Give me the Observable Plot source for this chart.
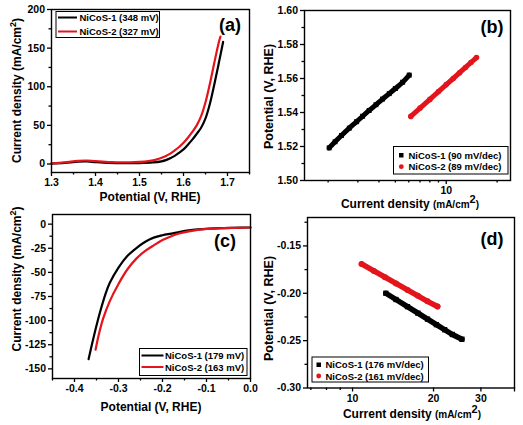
<!DOCTYPE html>
<html><head><meta charset="utf-8">
<script src="https://cdn.jsdelivr.net/npm/d3@7"></script>
<script src="https://cdn.jsdelivr.net/npm/@observablehq/plot@0.6"></script>
<style>
body{margin:0;background:#fff;}
#root{position:relative;width:523px;height:425px;overflow:hidden;background:#fff;}
</style></head><body><div id="root"></div>
<script>
// ---------- DATA ----------
// (a) OER polarization curves
const oerPotential1 = [1.30,1.33,1.36,1.38,1.40,1.43,1.46,1.50,1.53,1.55,1.56,1.57,1.58,1.59,1.60,1.61,1.62,1.63,1.64,1.65,1.66,1.67,1.68,1.69];
const oerCurrent1   = [0.5,1.5,3.0,3.3,2.5,1.5,1.0,1.2,2.0,3.5,5.0,7.5,10.5,14.5,19,25,31.5,39,47,59,78,103,130,158];
const oerPotential2 = [1.30,1.33,1.36,1.38,1.40,1.43,1.46,1.50,1.52,1.54,1.55,1.56,1.57,1.58,1.59,1.60,1.61,1.62,1.63,1.64,1.65,1.66,1.67,1.68,1.684];
const oerCurrent2   = [1.0,2.2,4.0,4.5,3.6,2.6,2.0,2.8,3.8,6.0,8.0,10.5,13.5,17.5,22,27.5,34,41.5,50,62,80,104,131,157,165];
// (b) OER Tafel plots
const oerTafelCurrent1   = [2.03,2.2,2.4,2.67,2.95,3.2,3.5,3.84,4.2,4.6,5.0,5.52,6.04];
const oerTafelPotential1 = [1.5192,1.5228,1.5265,1.5308,1.5346,1.5378,1.5412,1.5446,1.5479,1.5511,1.5541,1.5578,1.5620];
const oerTafelCurrent2   = [6.17,7,8,9,10,11,12,13,14,15.1];
const oerTafelPotential2 = [1.5377,1.5426,1.5477,1.5523,1.5564,1.5600,1.5634,1.5665,1.5694,1.5723];
// (c) HER polarization curves
const herPotential1 = [-0.368,-0.36,-0.35,-0.34,-0.33,-0.32,-0.30,-0.28,-0.26,-0.24,-0.22,-0.20,-0.18,-0.16,-0.14,-0.12,-0.10,-0.07,-0.04,0.0];
const herCurrent1   = [-140,-124,-105,-88,-73,-61,-45,-33,-25,-18.5,-14,-11.5,-9.8,-8,-6.5,-5.5,-4.8,-4.2,-3.8,-3.5];
const herPotential2 = [-0.352,-0.345,-0.335,-0.32,-0.30,-0.28,-0.26,-0.24,-0.22,-0.20,-0.18,-0.16,-0.14,-0.12,-0.10,-0.07,-0.04,0.0];
const herCurrent2   = [-130,-115,-98,-80,-62,-47,-36,-28,-22,-16.5,-12.5,-9.5,-7.5,-6,-5,-4.3,-3.9,-3.5];
// (d) HER Tafel plots
const herTafelCurrent1   = [13.3,14.5,16,17.5,19,20.5,22,23.5,25.5];
const herTafelPotential1 = [-0.200,-0.2066,-0.2141,-0.2210,-0.2273,-0.2331,-0.2385,-0.2435,-0.2485];
const herTafelCurrent2   = [10.8,12,13.2,14.5,16,17.5,19,20.7];
const herTafelPotential2 = [-0.169,-0.1764,-0.1830,-0.1896,-0.1965,-0.2027,-0.2085,-0.2140];

// legends / labels
const legendA = ["NiCoS-1 (348 mV)", "NiCoS-2 (327 mV)"];
const legendB = ["NiCoS-1 (90 mV/dec)", "NiCoS-2 (89 mV/dec)"];
const legendC = ["NiCoS-1 (179 mV)", "NiCoS-2 (163 mV)"];
const legendD = ["NiCoS-1 (176 mV/dec)", "NiCoS-2 (161 mV/dec)"];
const panelLabels = ["(a)", "(b)", "(c)", "(d)"];

// ticks
const ticksAx = [1.3,1.4,1.5,1.6,1.7], minorAx = [1.35,1.45,1.55,1.65,1.75];
const ticksAy = [0,50,100,150,200], minorAy = [25,75,125,175];
const ticksBx = [10], minorBx = [2,3,4,5,6,7,8,9,20];
const ticksBy = [1.50,1.52,1.54,1.56,1.58,1.60], minorBy = [1.51,1.53,1.55,1.57,1.59];
const ticksCx = [-0.4,-0.3,-0.2,-0.1,0.0], minorCx = [-0.45,-0.35,-0.25,-0.15,-0.05];
const ticksCy = [0,-25,-50,-75,-100,-125,-150], minorCy = [-12.5,-37.5,-62.5,-87.5,-112.5,-137.5];
const ticksDx = [10,20,30,40], minorDx = [7,8,9];
const ticksDy = [-0.30,-0.25,-0.20,-0.15], minorDy = [-0.275,-0.225,-0.175,-0.125];

// ---------- DRAWING ----------
const FONT = '"Liberation Sans", Arial, Helvetica, sans-serif';
const RED = "#e3141c";
const root = document.getElementById("root");
const rows = (xs, ys) => xs.map((x, i) => ({x, y: ys[i]}));

function axes(xMaj, xMin, xFmt, yMaj, yMin, yFmt) {
  const common = {label: null, strokeWidth: 1.3, fontSize: 10.5, fontWeight: "bold"};
  return [
    Plot.axisX(xMaj, {...common, anchor: "bottom", tickSize: 4, tickPadding: 2.5, tickFormat: xFmt}),
    Plot.axisX(xMin, {...common, anchor: "bottom", tickSize: 2.5, fill: "none", tickFormat: () => ""}),
    Plot.axisY(yMaj, {...common, anchor: "left", tickSize: 4, tickPadding: 2.5, tickFormat: yFmt}),
    Plot.axisY(yMin, {...common, anchor: "left", tickSize: 2.5, fill: "none", tickFormat: () => ""})
  ];
}
const baseStyle = {fontFamily: FONT, fontSize: "10.5px", fontWeight: "bold", color: "black", background: "transparent", overflow: "visible"};

function place(svg, left, top) {
  svg.style.position = "absolute";
  svg.style.left = left + "px";
  svg.style.top = top + "px";
  root.appendChild(svg);
  return d3.select(svg);
}
function txt(s, x, y, str, size, anchor = "start", rotate = false) {
  return s.append("text").attr("font-family", FONT).attr("font-weight", "bold")
    .attr("font-size", size).attr("text-anchor", anchor).attr("fill", "black")
    .attr("transform", `translate(${x},${y})` + (rotate ? " rotate(-90)" : ""));
}
function currentLabelPlain(s, x, y, rotate) {
  const t = txt(s, x, y, "", 12, "middle", rotate);
  t.append("tspan").text("Current density (mA/cm");
  t.append("tspan").attr("font-size", 9).attr("dy", -5).text("2");
  t.append("tspan").attr("dy", 5).text(")");
}
function currentLabelMixed(s, x, y) {
  const t = txt(s, x, y, "", 12, "middle");
  t.append("tspan").text("Current density ");
  t.append("tspan").attr("font-size", 10).text("(mA/cm");
  t.append("tspan").attr("font-size", 11).attr("dy", -5).text("2");
  t.append("tspan").attr("font-size", 10).attr("dy", 5).text(")");
}
function box(s, x0, y0, x1, y1) {
  s.append("rect").attr("x", x0).attr("y", y0).attr("width", x1 - x0).attr("height", y1 - y0)
    .attr("fill", "white").attr("stroke", "black").attr("stroke-width", 1);
}

// (a)
const svgA = Plot.plot({
  width: 262, height: 212, marginLeft: 51, marginRight: 13, marginTop: 9, marginBottom: 40,
  style: baseStyle,
  x: {domain: [1.3, 1.75]}, y: {domain: [-11, 200]},
  marks: [
    ...axes(ticksAx, minorAx, d => d.toFixed(1), ticksAy, minorAy, d => String(d)),
    Plot.line(rows(oerPotential1, oerCurrent1), {x: "x", y: "y", stroke: "black", strokeWidth: 2.2, curve: "catmull-rom"}),
    Plot.line(rows(oerPotential2, oerCurrent2), {x: "x", y: "y", stroke: RED, strokeWidth: 2.2, curve: "catmull-rom"}),
    Plot.frame({stroke: "black", strokeWidth: 1.4})
  ]
});
const sA = place(svgA, 0, 0);
txt(sA, 150, 201, "", 12, "middle").text("Potential (V, RHE)");
currentLabelPlain(sA, 20.5, 90.5, true);
box(sA, 56, 11.5, 159.5, 37.5);
sA.append("line").attr("x1", 58).attr("x2", 77).attr("y1", 17.5).attr("y2", 17.5).attr("stroke", "black").attr("stroke-width", 2);
sA.append("line").attr("x1", 58).attr("x2", 77).attr("y1", 31.5).attr("y2", 31.5).attr("stroke", RED).attr("stroke-width", 2);
txt(sA, 79.5, 21, "", 9.5).text(legendA[0]);
txt(sA, 79.5, 35, "", 9.5).text(legendA[1]);
txt(sA, 230, 31, "", 18, "middle").text(panelLabels[0]);

// (b)
const svgB = Plot.plot({
  width: 261, height: 212, marginLeft: 42, marginRight: 13, marginTop: 10, marginBottom: 32,
  style: baseStyle,
  x: {type: "log", domain: [1.45, 24]}, y: {domain: [1.50, 1.60]},
  marks: [
    ...axes(ticksBx, minorBx, d => String(d), ticksBy, minorBy, d => d.toFixed(2)),
    Plot.line(rows(oerTafelCurrent1, oerTafelPotential1), {x: "x", y: "y", stroke: "black", strokeWidth: 5, curve: "catmull-rom"}),
    Plot.dot(rows(oerTafelCurrent1, oerTafelPotential1), {x: "x", y: "y", fill: "black", r: 2.8, symbol: "square"}),
    Plot.line(rows(oerTafelCurrent2, oerTafelPotential2), {x: "x", y: "y", stroke: RED, strokeWidth: 5}),
    Plot.dot(rows(oerTafelCurrent2, oerTafelPotential2), {x: "x", y: "y", fill: RED, r: 2.8}),
    Plot.frame({stroke: "black", strokeWidth: 1.4})
  ]
});
const sB = place(svgB, 262, 0);
currentLabelMixed(sB, 148, 208);
txt(sB, 10.5, 96.5, "", 12.5, "middle", true).text("Potential (V, RHE)");
box(sB, 131.5, 146.5, 246, 174);
sB.append("rect").attr("x", 137).attr("y", 153).attr("width", 4.5).attr("height", 4.5).attr("fill", "black");
sB.append("circle").attr("cx", 139.3).attr("cy", 166.7).attr("r", 2.4).attr("fill", RED);
txt(sB, 146.5, 158.8, "", 9.5).text(legendB[0]);
txt(sB, 146.5, 170.2, "", 9.5).text(legendB[1]);
txt(sB, 230, 33, "", 18, "middle").text(panelLabels[1]);

// (c)
const svgC = Plot.plot({
  width: 262, height: 213, marginLeft: 52, marginRight: 12, marginTop: 2, marginBottom: 47,
  style: baseStyle,
  x: {domain: [-0.45, 0]}, y: {domain: [-160, 10]},
  marks: [
    ...axes(ticksCx, minorCx, d => d.toFixed(1), ticksCy, minorCy, d => String(d)),
    Plot.line(rows(herPotential1, herCurrent1), {x: "x", y: "y", stroke: "black", strokeWidth: 2.2, curve: "catmull-rom"}),
    Plot.line(rows(herPotential2, herCurrent2), {x: "x", y: "y", stroke: RED, strokeWidth: 2.2, curve: "catmull-rom"}),
    Plot.frame({stroke: "black", strokeWidth: 1.4})
  ]
});
const sC = place(svgC, 0, 212);
txt(sC, 151, 199, "", 12, "middle").text("Potential (V, RHE)");
currentLabelPlain(sC, 20.5, 67, true);
box(sC, 139.5, 136.5, 247, 163.5);
sC.append("line").attr("x1", 141.5).attr("x2", 163.5).attr("y1", 143.5).attr("y2", 143.5).attr("stroke", "black").attr("stroke-width", 2);
sC.append("line").attr("x1", 141.5).attr("x2", 163.5).attr("y1", 155).attr("y2", 155).attr("stroke", RED).attr("stroke-width", 2);
txt(sC, 165, 147, "", 9.5).text(legendC[0]);
txt(sC, 165, 158.5, "", 9.5).text(legendC[1]);
txt(sC, 225, 34.5, "", 18, "middle").text(panelLabels[2]);

// (d)
const svgD = Plot.plot({
  width: 261, height: 213, marginLeft: 45, marginRight: 9, marginTop: 5, marginBottom: 37.5,
  style: baseStyle,
  x: {type: "log", domain: [6.8, 40]}, y: {domain: [-0.30, -0.12]},
  marks: [
    ...axes(ticksDx, minorDx, d => String(d), ticksDy, minorDy, d => d.toFixed(2)),
    Plot.line(rows(herTafelCurrent1, herTafelPotential1), {x: "x", y: "y", stroke: "black", strokeWidth: 5.5}),
    Plot.dot(rows(herTafelCurrent1, herTafelPotential1), {x: "x", y: "y", fill: "black", r: 3, symbol: "square"}),
    Plot.line(rows(herTafelCurrent2, herTafelPotential2), {x: "x", y: "y", stroke: RED, strokeWidth: 5.5}),
    Plot.dot(rows(herTafelCurrent2, herTafelPotential2), {x: "x", y: "y", fill: RED, r: 3}),
    Plot.frame({stroke: "black", strokeWidth: 1.4})
  ]
});
const sD = place(svgD, 262, 212);
currentLabelMixed(sD, 150, 205.5);
txt(sD, 11, 96.5, "", 12.5, "middle", true).text("Potential (V, RHE)");
box(sD, 50, 145, 166.5, 170);
sD.append("rect").attr("x", 54.5).attr("y", 150.5).attr("width", 4.5).attr("height", 4.5).attr("fill", "black");
sD.append("circle").attr("cx", 56.7).attr("cy", 164).attr("r", 2.4).attr("fill", RED);
txt(sD, 63.5, 156.3, "", 9.5).text(legendD[0]);
txt(sD, 63.5, 167.5, "", 9.5).text(legendD[1]);
txt(sD, 230, 33, "", 18, "middle").text(panelLabels[3]);
</script>
</body></html>
